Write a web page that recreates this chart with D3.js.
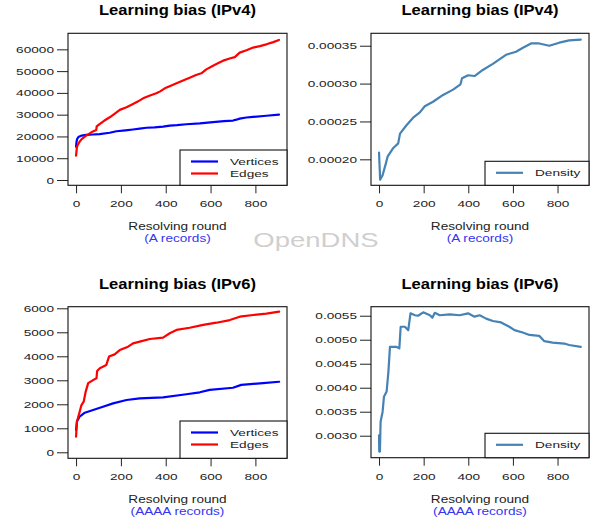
<!DOCTYPE html>
<html>
<head>
<meta charset="utf-8">
<script src="https://d3js.org/d3.v7.min.js"></script>
<style>
  body { margin: 0; background: #fff; }
  svg { display: block; font-family: "Liberation Sans", Arial, Helvetica, sans-serif; }
</style>
</head>
<body>
<svg id="chart" width="593" height="518"></svg>
<script>
// ---- data ----
var xTicks = [0, 200, 400, 600, 800];

// IPv4 (A records)
var v4VertRound = [0, 2, 5, 12, 25, 46, 75, 105, 150, 180, 220, 254, 284, 314, 350, 388, 418, 450, 492, 552, 611, 660, 700, 715, 730, 760, 790, 849, 905];
var v4Vert      = [15300, 17500, 18900, 19900, 20400, 20700, 20900, 21100, 21700, 22400, 22800, 23200, 23600, 24000, 24200, 24500, 25000, 25200, 25600, 26000, 26600, 27000, 27300, 27700, 28200, 28700, 29000, 29500, 30000];
var v4EdgeRound = [0, 4, 10, 16, 25, 39, 50, 61, 75, 90, 92, 105, 125, 150, 170, 195, 225, 254, 275, 299, 330, 358, 375, 396, 420, 448, 480, 507, 535, 559, 581, 611, 635, 656, 685, 708, 730, 760, 790, 820, 849, 880, 905];
var v4Edge      = [11200, 15300, 16600, 17600, 18800, 19900, 20700, 21400, 22300, 23000, 24600, 25700, 27200, 28800, 30300, 32200, 33400, 34900, 36000, 37500, 38800, 39800, 40700, 42100, 43200, 44400, 45800, 47000, 48200, 49000, 50800, 52500, 53700, 54800, 55800, 56400, 58500, 59600, 60800, 61500, 62300, 63300, 64300];
var v4DensRound = [0, 5, 16, 31, 39, 64, 86, 94, 123, 153, 183, 205, 242, 287, 332, 365, 372, 399, 428, 465, 510, 569, 614, 643, 681, 718, 763, 808, 852, 904];
var v4Dens      = [0.000209, 0.000173, 0.000179, 0.000195, 0.000204, 0.000215, 0.000221, 0.000234, 0.000245, 0.000255, 0.000262, 0.000270, 0.000276, 0.000285, 0.000292, 0.000299, 0.000307, 0.000311, 0.000310, 0.000318, 0.000326, 0.000338, 0.000342, 0.000347, 0.000353, 0.000353, 0.000350, 0.000354, 0.000357, 0.000358];

// IPv6 (AAAA records)
var v6VertRound = [0, 4, 16, 39, 76, 120, 165, 225, 284, 388, 492, 552, 596, 700, 737, 834, 906];
var v6Vert      = [930, 1280, 1490, 1650, 1760, 1900, 2040, 2180, 2250, 2290, 2420, 2500, 2600, 2690, 2810, 2880, 2940];
var v6EdgeRound = [0, 4, 16, 24, 34, 43, 54, 76, 91, 94, 106, 135, 147, 172, 195, 232, 254, 284, 329, 388, 418, 448, 507, 567, 626, 686, 730, 790, 849, 906];
var v6Edge      = [650, 1280, 1690, 1970, 2110, 2530, 2880, 3010, 3080, 3390, 3500, 3640, 3990, 4080, 4260, 4400, 4540, 4610, 4720, 4780, 4960, 5100, 5190, 5310, 5400, 5510, 5650, 5720, 5780, 5860];
var v6DensRound = [0, 1, 4, 7, 16, 22, 34, 42, 49, 79, 91, 97, 116, 131, 141, 161, 175, 198, 228, 239, 250, 272, 317, 361, 399, 428, 451, 480, 510, 547, 584, 607, 644, 674, 718, 741, 778, 830, 852, 904];
var v6Dens      = [0.00301, 0.00267, 0.00267, 0.00329, 0.00350, 0.00381, 0.00392, 0.00433, 0.00485, 0.00485, 0.00482, 0.00527, 0.00527, 0.00520, 0.00555, 0.00551, 0.00550, 0.00557, 0.00551, 0.00546, 0.00556, 0.00551, 0.00553, 0.00551, 0.00555, 0.00548, 0.00551, 0.00544, 0.00539, 0.00536, 0.00527, 0.00520, 0.00515, 0.00510, 0.00508, 0.00497, 0.00494, 0.00492, 0.00489, 0.00485];

var countTicks4 = [0, 10000, 20000, 30000, 40000, 50000, 60000];
var densTicks4  = [0.00020, 0.00025, 0.00030, 0.00035];
var countTicks6 = [0, 1000, 2000, 3000, 4000, 5000, 6000];
var densTicks6  = [0.0030, 0.0035, 0.0040, 0.0045, 0.0050, 0.0055];

var titles = ["Learning bias (IPv4)", "Learning bias (IPv6)"];
var subtitles = ["(A records)", "(AAAA records)"];
var xLabel = "Resolving round";

// ---- drawing ----
var svg = d3.select("#chart");
var SMALL = 9.6, STRETCH = 1.42;   // the figure text is wide, so stretch it

function stretch(sel, f) {
  sel.each(function () {
    var w = this.getComputedTextLength();
    d3.select(this).attr("textLength", w * f).attr("lengthAdjust", "spacingAndGlyphs");
  });
}

var panels = [
  { left: 68, right: 287, top: 33.3, bottom: 185.3, yDom: [-2430, 67360], yTicks: countTicks4, fmt: d3.format("d"), row: 0,
    series: [{ x: v4VertRound, y: v4Vert, color: "#0000ff", name: "Vertices" }, { x: v4EdgeRound, y: v4Edge, color: "#ff0000", name: "Edges" }],
    legLeft: 180, legTop: 150 },
  { left: 371, right: 589, top: 33.3, bottom: 185.3, yDom: [0.0001657, 0.0003664], yTicks: densTicks4, fmt: d3.format(".5f"), row: 0,
    series: [{ x: v4DensRound, y: v4Dens, color: "#4682b4", name: "Density" }],
    legLeft: 485, legTop: 161.3 },
  { left: 68, right: 287, top: 306.7, bottom: 458.3, yDom: [-250, 6067], yTicks: countTicks6, fmt: d3.format("d"), row: 1,
    series: [{ x: v6VertRound, y: v6Vert, color: "#0000ff", name: "Vertices" }, { x: v6EdgeRound, y: v6Edge, color: "#ff0000", name: "Edges" }],
    legLeft: 180, legTop: 421 },
  { left: 371, right: 589, top: 306.7, bottom: 457.7, yDom: [0.002542, 0.005688], yTicks: densTicks6, fmt: d3.format(".4f"), row: 1,
    series: [{ x: v6DensRound, y: v6Dens, color: "#4682b4", name: "Density" }],
    legLeft: 485, legTop: 433.3 }
];

panels.forEach(function (p) {
  var x = d3.scaleLinear().domain([-36, 941]).range([p.left, p.right]);
  var y = d3.scaleLinear().domain(p.yDom).range([p.bottom, p.top]);
  var g = svg.append("g");
  var cx = (p.left + p.right) / 2;

  // y axis
  var ya = g.append("g").attr("transform", "translate(" + p.left + ",0)")
    .call(d3.axisLeft(y).tickValues(p.yTicks).tickFormat(p.fmt).tickSize(11).tickPadding(3));
  ya.select(".domain").remove();
  ya.selectAll("line").attr("stroke", "#222");
  ya.selectAll("text").attr("font-size", SMALL).attr("fill", "#222").attr("font-family", null).call(stretch, STRETCH);

  // x axis
  var xa = g.append("g").attr("transform", "translate(0," + p.bottom + ")")
    .call(d3.axisBottom(x).tickValues(xTicks).tickSize(8));
  xa.select(".domain").remove();
  xa.selectAll("line").attr("stroke", "#222");
  xa.selectAll("text").attr("font-size", SMALL).attr("fill", "#222").attr("font-family", null)
    .attr("y", 22).attr("dy", 0).call(stretch, STRETCH);

  // lines
  var line = d3.line().x(function (d) { return x(d[0]); }).y(function (d) { return y(d[1]); });
  p.series.forEach(function (s) {
    g.append("path").datum(d3.zip(s.x, s.y)).attr("d", line)
      .attr("fill", "none").attr("stroke", s.color).attr("stroke-width", 2.2)
      .attr("stroke-linejoin", "round").attr("stroke-linecap", "round");
  });

  // box
  g.append("rect").attr("x", p.left).attr("y", p.top)
    .attr("width", p.right - p.left).attr("height", p.bottom - p.top)
    .attr("fill", "none").attr("stroke", "#111").attr("stroke-width", 1.1);

  // legend
  var lg = g.append("g");
  lg.append("rect").attr("x", p.legLeft).attr("y", p.legTop)
    .attr("width", p.right - p.legLeft).attr("height", p.bottom - p.legTop)
    .attr("fill", "#fff").attr("stroke", "#111").attr("stroke-width", 1.1);
  p.series.forEach(function (s, i) {
    var ry = p.legTop + 11.5 + i * 12;
    lg.append("line").attr("x1", p.legLeft + 11).attr("x2", p.legLeft + 38)
      .attr("y1", ry).attr("y2", ry).attr("stroke", s.color).attr("stroke-width", 2.2);
    lg.append("text").attr("x", p.legLeft + 50).attr("y", ry + 3.4)
      .attr("font-size", SMALL).attr("fill", "#222").text(s.name).call(stretch, STRETCH);
  });

  // title and axis labels
  g.append("text").attr("x", cx).attr("y", p.top - 18).attr("text-anchor", "middle")
    .attr("font-size", 14).attr("font-weight", "bold").attr("fill", "#000")
    .text(titles[p.row]).call(stretch, 1.18);
  g.append("text").attr("x", cx).attr("y", p.bottom + 45).attr("text-anchor", "middle")
    .attr("font-size", 10).attr("fill", "#222").text(xLabel).call(stretch, 1.36);
  g.append("text").attr("x", cx).attr("y", p.bottom + 57).attr("text-anchor", "middle")
    .attr("font-size", 10).attr("fill", "#3535f0").text(subtitles[p.row]).call(stretch, 1.36);
});

// watermark
svg.append("text").attr("x", 316).attr("y", 247).attr("text-anchor", "middle")
  .attr("font-size", 19.5).attr("fill", "#cfcfcf").text("OpenDNS").call(stretch, 1.41);
</script>
</body>
</html>
